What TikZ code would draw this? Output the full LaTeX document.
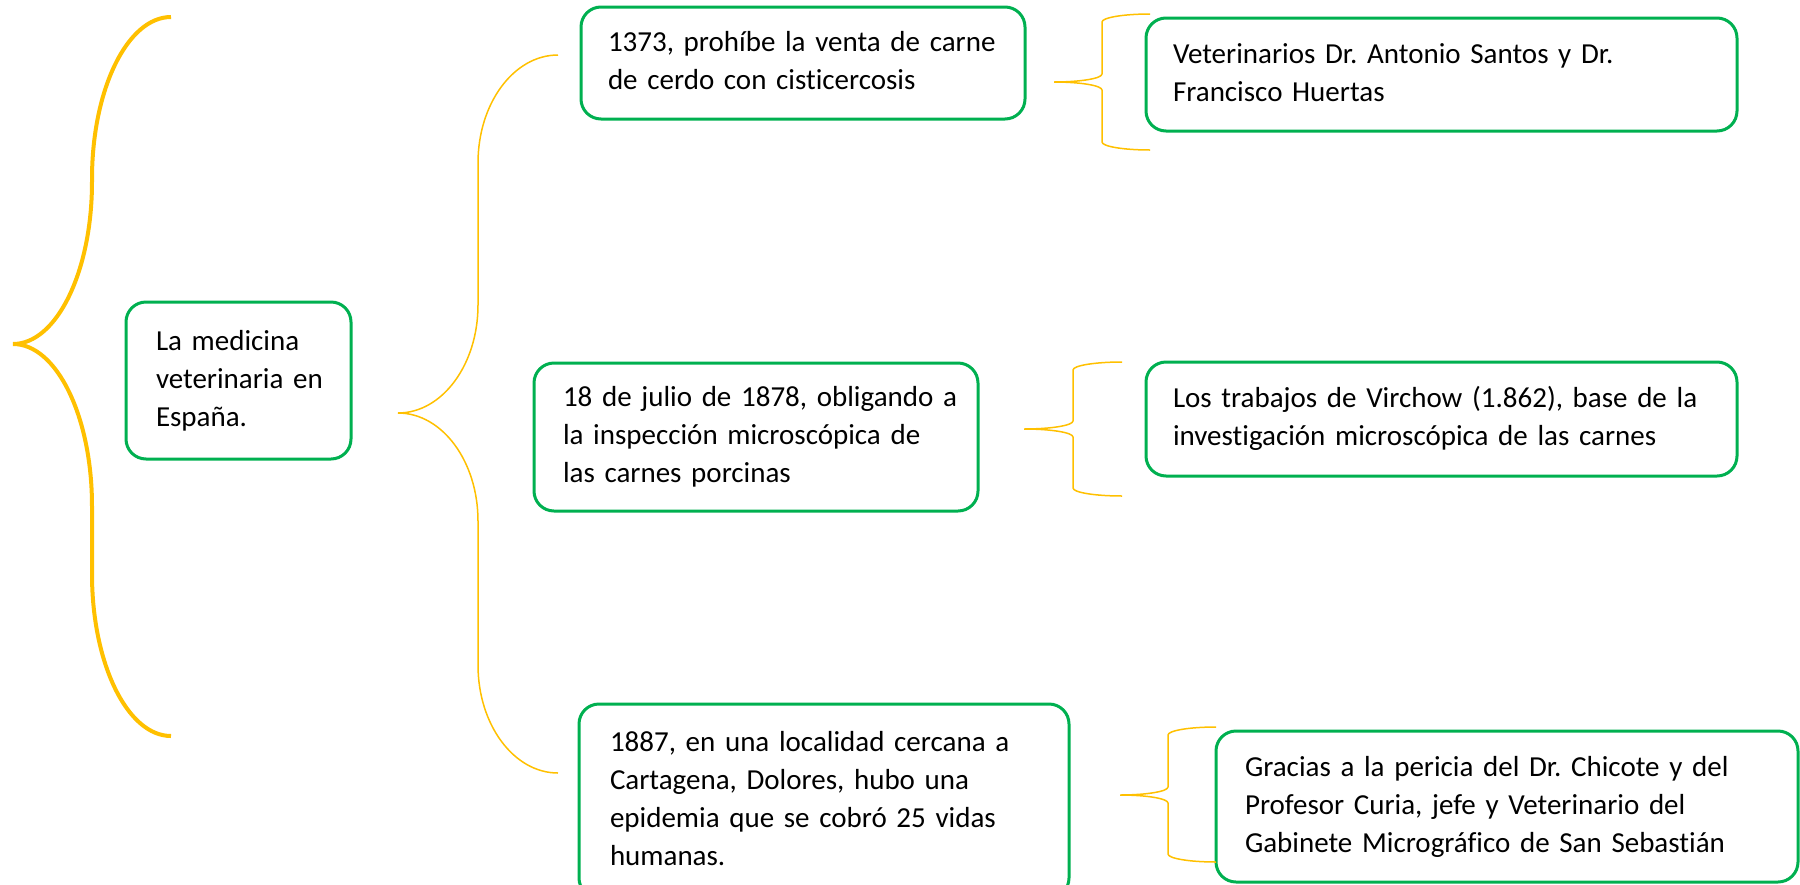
\documentclass[tikz,border=0pt]{standalone}
\usepackage{fontspec}
\setmainfont{Carlito}[Ligatures={NoCommon},WordSpace=0.8]
\definecolor{boxgreen}{HTML}{00B050}
\definecolor{braceyellow}{HTML}{FFC000}
% #1 style, #2 tip x, #3 tip y, #4 end x, #5 top y, #6 bottom y, #7 end-curve radius, #8 tip-curve radius
\newcommand\mybrace[8]{%
  \pgfmathsetmacro\Mx{(#2+#4)/2}%
  \pgfmathsetmacro\kx{0.5523*(#4-#2)/2}%
  \pgfmathsetmacro\Ea{#4-\kx}%
  \pgfmathsetmacro\La{#2+\kx}%
  \pgfmathsetmacro\Ta{#5+#7*(1-0.5523)}%
  \pgfmathsetmacro\Tb{#5+#7}%
  \pgfmathsetmacro\Ya{#3-#8}%
  \pgfmathsetmacro\Yb{#3-#8*(1-0.5523)}%
  \pgfmathsetmacro\Yc{#3+#8*(1-0.5523)}%
  \pgfmathsetmacro\Yd{#3+#8}%
  \pgfmathsetmacro\Ba{#6-#7}%
  \pgfmathsetmacro\Bb{#6-#7*(1-0.5523)}%
  \draw[#1] (#4,#5) .. controls (\Ea,#5) and (\Mx,\Ta) .. (\Mx,\Tb)
    -- (\Mx,\Ya) .. controls (\Mx,\Yb) and (\La,#3) .. (#2,#3)
    .. controls (\La,#3) and (\Mx,\Yc) .. (\Mx,\Yd)
    -- (\Mx,\Ba) .. controls (\Mx,\Bb) and (\Ea,#6) .. (#4,#6);%
}
\frenchspacing
\begin{document}
\begin{tikzpicture}[x=1pt,y=-1pt,
  box/.style={draw=boxgreen, line width=3pt, rounded corners=20pt, align=left,
    font=\fontsize{29}{38}\selectfont\frenchspacing, inner ysep=0pt},
  bigbrace/.style={draw=braceyellow, line width=4pt},
  thinbrace/.style={draw=braceyellow, line width=1.5pt}]
\useasboundingbox (0,0) rectangle (1800,884);
\clip (0,0) rectangle (1800,884);

\node[box, minimum width=225pt, minimum height=157pt, inner xsep=30pt, text width=165pt] (main) at (238.5,380.5)
  {\mbox{\strut La medicina}\\\mbox{\strut veterinaria en}\\\mbox{\strut España.}};

\node[box, minimum width=444pt, minimum height=112pt, inner xsep=27pt, text width=390pt] (a) at (803,63)
  {\mbox{\strut 1373, prohíbe la venta de carne}\\\mbox{\strut de cerdo con cisticercosis}};

\node[box, minimum width=591pt, minimum height=113pt, inner xsep=27pt, text width=537pt] (b) at (1441.5,74.5)
  {\mbox{\strut Veterinarios Dr. Antonio Santos y Dr.}\\\mbox{\strut Francisco Huertas}};

\node[box, minimum width=444pt, minimum height=148pt, inner xsep=29pt, text width=386pt] (c) at (756,437)
  {\mbox{\strut 18 de julio de 1878, obligando a}\\\mbox{\strut la inspección microscópica de}\\\mbox{\strut las carnes porcinas}};

\node[box, minimum width=591pt, minimum height=114pt, inner xsep=27pt, text width=537pt] (d) at (1441.5,419)
  {\mbox{\strut Los trabajos de Virchow (1.862), base de la}\\\mbox{\strut investigación microscópica de las carnes}};

\node[box, minimum width=490pt, minimum height=194pt, inner xsep=31pt, text width=428pt] (e) at (824,801)
  {\mbox{\strut 1887, en una localidad cercana a}\\\mbox{\strut Cartagena, Dolores, hubo una}\\\mbox{\strut epidemia que se cobró 25 vidas}\\\mbox{\strut humanas.}};

\node[box, minimum width=582pt, minimum height=151pt, inner xsep=29pt, text width=524pt] (f) at (1507,806.5)
  {\mbox{\strut Gracias a la pericia del Dr. Chicote y del}\\\mbox{\strut Profesor Curia, jefe y Veterinario del}\\\mbox{\strut Gabinete Micrográfico de San Sebastián}};

\mybrace{bigbrace}{13}{344}{171}{17}{736}{162}{162}
\mybrace{thinbrace}{398}{413}{558}{55}{773}{108}{108}
\mybrace{thinbrace}{1054}{82}{1150}{14}{150}{8}{8}
\mybrace{thinbrace}{1024}{429}{1122}{362}{496}{8}{8}
\mybrace{thinbrace}{1120}{795}{1216}{727}{862}{8}{8}
\end{tikzpicture}
\end{document}
